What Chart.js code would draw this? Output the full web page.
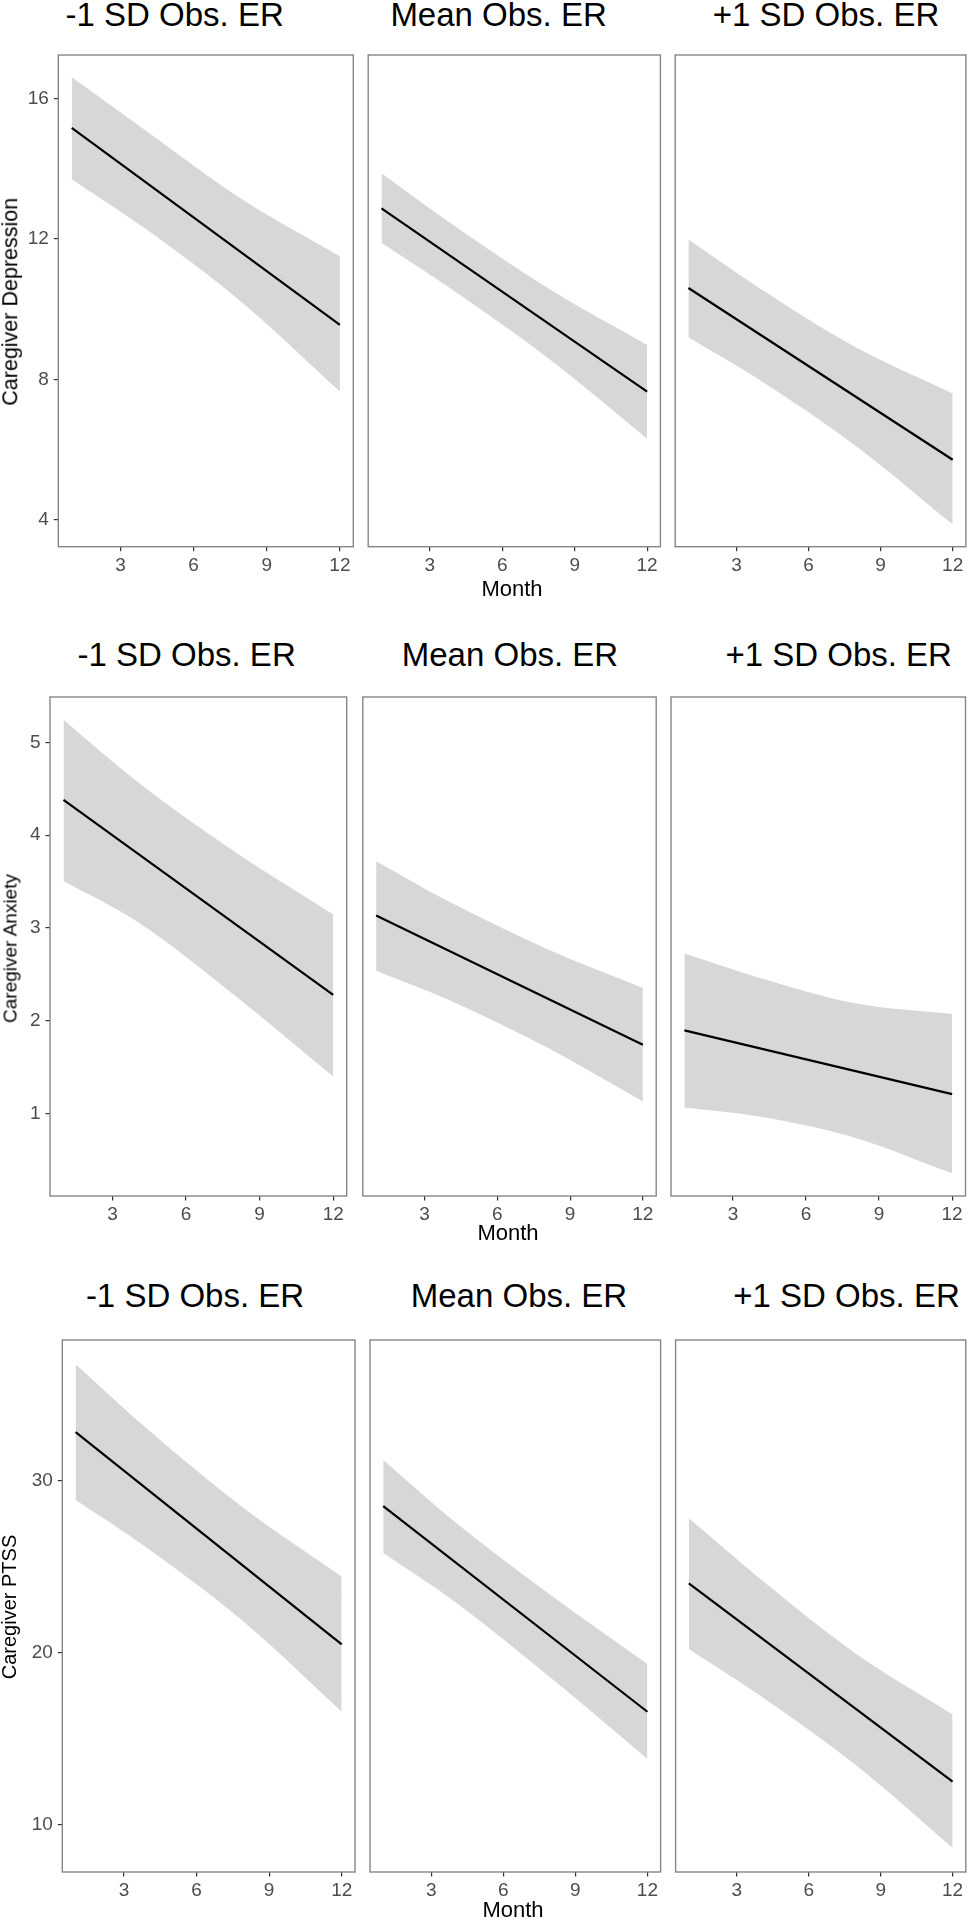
<!DOCTYPE html>
<html>
<head>
<meta charset="utf-8">
<script src="https://cdn.jsdelivr.net/npm/chart.js@4.4.1/dist/chart.umd.min.js"></script>
<style>
html,body{margin:0;padding:0;background:#fff;}
#wrap{position:relative;width:967px;height:1920px;overflow:hidden;font-family:"Liberation Sans",Arial,sans-serif;background:#fff;}
#wrap canvas{position:absolute;}
.ttl{position:absolute;font-size:33px;line-height:33px;white-space:nowrap;color:#000;text-align:center;width:400px;}
.xl{position:absolute;font-size:22px;line-height:22px;white-space:nowrap;color:#000;text-align:center;width:200px;}
.yl{position:absolute;color:#000;text-align:center;width:400px;white-space:nowrap;transform:rotate(-90deg);}
</style>
</head>
<body>
<div id="wrap"></div>
<script>
// ---------------- data ----------------
const bandMonths = [1, 4, 8, 12];
const lineMonths = [1, 12];
const xTicks = [3, 6, 9, 12];
const yTicksDepression = [4, 8, 12, 16];
const yTicksAnxiety = [1, 2, 3, 4, 5];
const yTicksPtss = [10, 20, 30];
const panelTitles = ['-1 SD Obs. ER', 'Mean Obs. ER', '+1 SD Obs. ER'];
const outcomeLabels = ['Caregiver Depression', 'Caregiver Anxiety', 'Caregiver PTSS'];
const xAxisLabel = 'Month';

// Caregiver Depression
const depLowLine = [15.16, 9.55];
const depLowUpper = [16.60, 15.10, 13.12, 11.50];
const depLowLower = [13.70, 12.30, 10.18, 7.65];
const depMeanLine = [12.87, 7.65];
const depMeanUpper = [13.87, 12.38, 10.55, 8.98];
const depMeanLower = [11.89, 10.52, 8.55, 6.31];
const depHighLine = [10.60, 5.71];
const depHighUpper = [11.98, 10.58, 8.90, 7.60];
const depHighLower = [9.20, 7.97, 6.09, 3.87];

// Caregiver Anxiety
const anxLowLine = [4.38, 2.28];
const anxLowUpper = [5.245, 4.58, 3.82, 3.146];
const anxLowLower = [3.506, 3.07, 2.27, 1.40];
const anxMeanLine = [3.135, 1.742];
const anxMeanUpper = [3.72, 3.285, 2.78, 2.354];
const anxMeanLower = [2.54, 2.225, 1.72, 1.13];
const anxHighLine = [1.897, 1.209];
const anxHighUpper = [2.725, 2.47, 2.19, 2.073];
const anxHighLower = [1.065, 0.97, 0.74, 0.356];

// Caregiver PTSS
const ptssLowLine = [32.81, 20.49];
const ptssLowUpper = [36.76, 32.95, 28.35, 24.43];
const ptssLowLower = [28.87, 26.05, 21.75, 16.58];
const ptssMeanLine = [28.52, 16.58];
const ptssMeanUpper = [31.19, 27.58, 23.33, 19.35];
const ptssMeanLower = [25.79, 22.95, 18.52, 13.85];
const ptssHighLine = [24.03, 12.53];
const ptssHighUpper = [27.81, 24.27, 19.92, 16.42];
const ptssHighLower = [20.22, 17.49, 13.44, 8.68];

// ---------------- assembly ----------------
const rowSeries = [
  [{line: depLowLine, upper: depLowUpper, lower: depLowLower},
   {line: depMeanLine, upper: depMeanUpper, lower: depMeanLower},
   {line: depHighLine, upper: depHighUpper, lower: depHighLower}],
  [{line: anxLowLine, upper: anxLowUpper, lower: anxLowLower},
   {line: anxMeanLine, upper: anxMeanUpper, lower: anxMeanLower},
   {line: anxHighLine, upper: anxHighUpper, lower: anxHighLower}],
  [{line: ptssLowLine, upper: ptssLowUpper, lower: ptssLowLower},
   {line: ptssMeanLine, upper: ptssMeanUpper, lower: ptssMeanLower},
   {line: ptssHighLine, upper: ptssHighUpper, lower: ptssHighLower}]
];
const rowYTicks = [yTicksDepression, yTicksAnxiety, yTicksPtss];

// layout (positions / sizes)
const layoutRows = [
  {top: 55, bottom: 546.7, panels: [[58.3, 353.3], [364.6, 660.4], [671.6, 965.9]],
   titleTop: -2.5, titleCx: [174.7, 498.6, 826], monthTop: 577.5, monthCx: 512,
   yTitleCx: 10.7, yTitleCy: 302, yTitleSize: 21.5},
  {top: 697, bottom: 1196, panels: [[50, 346.7], [358.9, 656.2], [668, 965.5]],
   titleTop: 637.5, titleCx: [186.6, 510, 838.7], monthTop: 1221.5, monthCx: 508,
   yTitleCx: 9.8, yTitleCy: 948, yTitleSize: 19},
  {top: 1340, bottom: 1872, panels: [[62.3, 355], [367, 660.6], [672.3, 965.8]],
   titleTop: 1278.5, titleCx: [195, 519, 846.5], monthTop: 1898.5, monthCx: 513,
   yTitleCx: 9, yTitleCy: 1607, yTitleSize: 20}
];

const RIBBON = '#d7d7d7';
const BORDER = '#858585';
const TICK = '#333333';
const TICKLABEL = '#4d4d4d';
const X_MIN = 0.45, X_MAX = 12.55;

Chart.defaults.font.family = '"Liberation Sans", Arial, sans-serif';

const borderPlugin = {
  id: 'panelBorder',
  afterDraw(chart) {
    const a = chart.chartArea, ctx = chart.ctx;
    ctx.save();
    ctx.strokeStyle = BORDER;
    ctx.lineWidth = 1.4;
    ctx.strokeRect(a.left, a.top, a.right - a.left, a.bottom - a.top);
    ctx.restore();
  }
};

const wrap = document.getElementById('wrap');

function addDiv(cls, text, styles) {
  const d = document.createElement('div');
  d.className = cls;
  d.textContent = text;
  Object.assign(d.style, styles);
  wrap.appendChild(d);
  return d;
}

layoutRows.forEach((row, r) => {
  // y range from data with 5% expansion (ggplot style)
  let lo = Infinity, hi = -Infinity;
  rowSeries[r].forEach(s => {
    s.upper.concat(s.lower, s.line).forEach(v => { lo = Math.min(lo, v); hi = Math.max(hi, v); });
  });
  const span = hi - lo;
  const yMin = lo - 0.05 * span, yMax = hi + 0.05 * span;

  row.panels.forEach(([pl, pr], c) => {
    const s = rowSeries[r][c];
    const cLeft = c === 0 ? 0 : Math.floor(pl - 3);
    const cTop = Math.floor(row.top - 3);
    const cRight = Math.ceil(pr + 8);
    const cBottom = Math.ceil(row.bottom + 38);
    const W = cRight - cLeft, H = cBottom - cTop;
    const padL = pl - cLeft, padT = row.top - cTop, padR = cRight - pr, padB = cBottom - row.bottom;

    const cv = document.createElement('canvas');
    cv.width = W; cv.height = H;
    cv.style.left = cLeft + 'px'; cv.style.top = cTop + 'px';
    cv.style.width = W + 'px'; cv.style.height = H + 'px';
    wrap.appendChild(cv);

    new Chart(cv, {
      type: 'line',
      data: {
        datasets: [
          {label: 'estimate', data: lineMonths.map((m, i) => ({x: m, y: s.line[i]})),
           borderColor: '#000', borderWidth: 2.2, pointRadius: 0, fill: false, order: 0, tension: 0},
          {label: 'upper', data: bandMonths.map((m, i) => ({x: m, y: s.upper[i]})),
           borderColor: 'rgba(0,0,0,0)', borderWidth: 0, backgroundColor: RIBBON, pointRadius: 0,
           fill: '+1', order: 1, cubicInterpolationMode: 'monotone'},
          {label: 'lower', data: bandMonths.map((m, i) => ({x: m, y: s.lower[i]})),
           borderColor: 'rgba(0,0,0,0)', borderWidth: 0, pointRadius: 0,
           fill: false, order: 2, cubicInterpolationMode: 'monotone'}
        ]
      },
      options: {
        responsive: false, animation: false, events: [],
        layout: {padding: {left: c === 0 ? 0 : padL, top: padT, right: padR, bottom: 0}},
        plugins: {legend: {display: false}, tooltip: {enabled: false}, title: {display: false}},
        scales: {
          x: {
            type: 'linear', min: X_MIN, max: X_MAX,
            afterBuildTicks: sc => { sc.ticks = xTicks.map(v => ({value: v})); },
            afterFit: sc => { sc.height = padB; sc.paddingLeft = 0; sc.paddingRight = 0; },
            grid: {display: true, drawOnChartArea: false, drawTicks: true, tickLength: 4.5, color: TICK, lineWidth: 1.2},
            border: {display: false},
            ticks: {color: TICKLABEL, font: {size: 19}, padding: 3, maxRotation: 0, autoSkip: false}
          },
          y: {
            type: 'linear', display: c === 0, min: yMin, max: yMax,
            afterBuildTicks: sc => { sc.ticks = rowYTicks[r].map(v => ({value: v})); },
            afterFit: sc => { sc.width = padL; sc.paddingTop = 0; sc.paddingBottom = 0; },
            grid: {display: true, drawOnChartArea: false, drawTicks: true, tickLength: 4.5, color: TICK, lineWidth: 1.2},
            border: {display: false},
            ticks: {color: TICKLABEL, font: {size: 19}, padding: 5, autoSkip: false}
          }
        }
      },
      plugins: [borderPlugin]
    });

    addDiv('ttl', panelTitles[c], {left: (row.titleCx[c] - 200) + 'px', top: row.titleTop + 'px'});
  });

  addDiv('xl', xAxisLabel, {left: (row.monthCx - 100) + 'px', top: row.monthTop + 'px'});
  const f = row.yTitleSize;
  addDiv('yl', outcomeLabels[r], {
    left: (row.yTitleCx - 200) + 'px', top: (row.yTitleCy - f / 2) + 'px',
    fontSize: f + 'px', lineHeight: f + 'px'
  });
});
</script>
</body>
</html>
